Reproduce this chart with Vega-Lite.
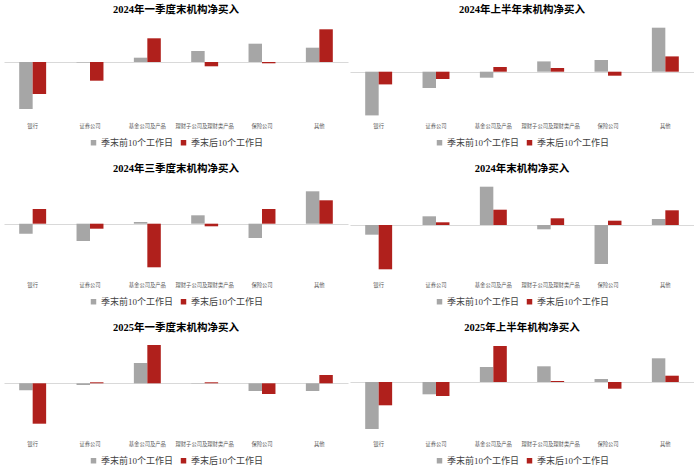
{
  "$schema": "https://vega.github.io/schema/vega-lite/v6.json",
  "padding": {"left": 4, "top": 4, "right": 0, "bottom": 0},
  "background": "white",
  "data": {"values": [
    {"panel": "2024年一季度末机构净买入", "cat": "银行", "series": "季末前10个工作日", "v": -47},
    {"panel": "2024年一季度末机构净买入", "cat": "银行", "series": "季末后10个工作日", "v": -32},
    {"panel": "2024年一季度末机构净买入", "cat": "证券公司", "series": "季末前10个工作日", "v": -0.5},
    {"panel": "2024年一季度末机构净买入", "cat": "证券公司", "series": "季末后10个工作日", "v": -18.7},
    {"panel": "2024年一季度末机构净买入", "cat": "基金公司及产品", "series": "季末前10个工作日", "v": 4.3},
    {"panel": "2024年一季度末机构净买入", "cat": "基金公司及产品", "series": "季末后10个工作日", "v": 23.7},
    {"panel": "2024年一季度末机构净买入", "cat": "理财子公司及理财类产品", "series": "季末前10个工作日", "v": 11},
    {"panel": "2024年一季度末机构净买入", "cat": "理财子公司及理财类产品", "series": "季末后10个工作日", "v": -4.3},
    {"panel": "2024年一季度末机构净买入", "cat": "保险公司", "series": "季末前10个工作日", "v": 18.3},
    {"panel": "2024年一季度末机构净买入", "cat": "保险公司", "series": "季末后10个工作日", "v": -1.3},
    {"panel": "2024年一季度末机构净买入", "cat": "其他", "series": "季末前10个工作日", "v": 14.3},
    {"panel": "2024年一季度末机构净买入", "cat": "其他", "series": "季末后10个工作日", "v": 32.7},

    {"panel": "2024年上半年末机构净买入", "cat": "银行", "series": "季末前10个工作日", "v": -43.7},
    {"panel": "2024年上半年末机构净买入", "cat": "银行", "series": "季末后10个工作日", "v": -12.7},
    {"panel": "2024年上半年末机构净买入", "cat": "证券公司", "series": "季末前10个工作日", "v": -16.3},
    {"panel": "2024年上半年末机构净买入", "cat": "证券公司", "series": "季末后10个工作日", "v": -7.3},
    {"panel": "2024年上半年末机构净买入", "cat": "基金公司及产品", "series": "季末前10个工作日", "v": -6},
    {"panel": "2024年上半年末机构净买入", "cat": "基金公司及产品", "series": "季末后10个工作日", "v": 4.7},
    {"panel": "2024年上半年末机构净买入", "cat": "理财子公司及理财类产品", "series": "季末前10个工作日", "v": 10.3},
    {"panel": "2024年上半年末机构净买入", "cat": "理财子公司及理财类产品", "series": "季末后10个工作日", "v": 3.7},
    {"panel": "2024年上半年末机构净买入", "cat": "保险公司", "series": "季末前10个工作日", "v": 11.7},
    {"panel": "2024年上半年末机构净买入", "cat": "保险公司", "series": "季末后10个工作日", "v": -4},
    {"panel": "2024年上半年末机构净买入", "cat": "其他", "series": "季末前10个工作日", "v": 44},
    {"panel": "2024年上半年末机构净买入", "cat": "其他", "series": "季末后10个工作日", "v": 15.3},

    {"panel": "2024年三季度末机构净买入", "cat": "银行", "series": "季末前10个工作日", "v": -10},
    {"panel": "2024年三季度末机构净买入", "cat": "银行", "series": "季末后10个工作日", "v": 14.7},
    {"panel": "2024年三季度末机构净买入", "cat": "证券公司", "series": "季末前10个工作日", "v": -17.3},
    {"panel": "2024年三季度末机构净买入", "cat": "证券公司", "series": "季末后10个工作日", "v": -5},
    {"panel": "2024年三季度末机构净买入", "cat": "基金公司及产品", "series": "季末前10个工作日", "v": 1.7},
    {"panel": "2024年三季度末机构净买入", "cat": "基金公司及产品", "series": "季末后10个工作日", "v": -43.6},
    {"panel": "2024年三季度末机构净买入", "cat": "理财子公司及理财类产品", "series": "季末前10个工作日", "v": 8.4},
    {"panel": "2024年三季度末机构净买入", "cat": "理财子公司及理财类产品", "series": "季末后10个工作日", "v": -2.6},
    {"panel": "2024年三季度末机构净买入", "cat": "保险公司", "series": "季末前10个工作日", "v": -14.3},
    {"panel": "2024年三季度末机构净买入", "cat": "保险公司", "series": "季末后10个工作日", "v": 14.7},
    {"panel": "2024年三季度末机构净买入", "cat": "其他", "series": "季末前10个工作日", "v": 32.4},
    {"panel": "2024年三季度末机构净买入", "cat": "其他", "series": "季末后10个工作日", "v": 23.4},

    {"panel": "2024年末机构净买入", "cat": "银行", "series": "季末前10个工作日", "v": -9.7},
    {"panel": "2024年末机构净买入", "cat": "银行", "series": "季末后10个工作日", "v": -44.3},
    {"panel": "2024年末机构净买入", "cat": "证券公司", "series": "季末前10个工作日", "v": 8.7},
    {"panel": "2024年末机构净买入", "cat": "证券公司", "series": "季末后10个工作日", "v": 2.7},
    {"panel": "2024年末机构净买入", "cat": "基金公司及产品", "series": "季末前10个工作日", "v": 38.3},
    {"panel": "2024年末机构净买入", "cat": "基金公司及产品", "series": "季末后10个工作日", "v": 15.3},
    {"panel": "2024年末机构净买入", "cat": "理财子公司及理财类产品", "series": "季末前10个工作日", "v": -4.3},
    {"panel": "2024年末机构净买入", "cat": "理财子公司及理财类产品", "series": "季末后10个工作日", "v": 6.7},
    {"panel": "2024年末机构净买入", "cat": "保险公司", "series": "季末前10个工作日", "v": -39},
    {"panel": "2024年末机构净买入", "cat": "保险公司", "series": "季末后10个工作日", "v": 4.3},
    {"panel": "2024年末机构净买入", "cat": "其他", "series": "季末前10个工作日", "v": 6},
    {"panel": "2024年末机构净买入", "cat": "其他", "series": "季末后10个工作日", "v": 14.7},

    {"panel": "2025年一季度末机构净买入", "cat": "银行", "series": "季末前10个工作日", "v": -7},
    {"panel": "2025年一季度末机构净买入", "cat": "银行", "series": "季末后10个工作日", "v": -40.4},
    {"panel": "2025年一季度末机构净买入", "cat": "证券公司", "series": "季末前10个工作日", "v": -1.7},
    {"panel": "2025年一季度末机构净买入", "cat": "证券公司", "series": "季末后10个工作日", "v": 1},
    {"panel": "2025年一季度末机构净买入", "cat": "基金公司及产品", "series": "季末前10个工作日", "v": 20.3},
    {"panel": "2025年一季度末机构净买入", "cat": "基金公司及产品", "series": "季末后10个工作日", "v": 38.3},
    {"panel": "2025年一季度末机构净买入", "cat": "理财子公司及理财类产品", "series": "季末前10个工作日", "v": 0.3},
    {"panel": "2025年一季度末机构净买入", "cat": "理财子公司及理财类产品", "series": "季末后10个工作日", "v": 1},
    {"panel": "2025年一季度末机构净买入", "cat": "保险公司", "series": "季末前10个工作日", "v": -7.7},
    {"panel": "2025年一季度末机构净买入", "cat": "保险公司", "series": "季末后10个工作日", "v": -10.7},
    {"panel": "2025年一季度末机构净买入", "cat": "其他", "series": "季末前10个工作日", "v": -7.7},
    {"panel": "2025年一季度末机构净买入", "cat": "其他", "series": "季末后10个工作日", "v": 8.3},

    {"panel": "2025年上半年机构净买入", "cat": "银行", "series": "季末前10个工作日", "v": -47},
    {"panel": "2025年上半年机构净买入", "cat": "银行", "series": "季末后10个工作日", "v": -23.3},
    {"panel": "2025年上半年机构净买入", "cat": "证券公司", "series": "季末前10个工作日", "v": -12.3},
    {"panel": "2025年上半年机构净买入", "cat": "证券公司", "series": "季末后10个工作日", "v": -14},
    {"panel": "2025年上半年机构净买入", "cat": "基金公司及产品", "series": "季末前10个工作日", "v": 15},
    {"panel": "2025年上半年机构净买入", "cat": "基金公司及产品", "series": "季末后10个工作日", "v": 36},
    {"panel": "2025年上半年机构净买入", "cat": "理财子公司及理财类产品", "series": "季末前10个工作日", "v": 15.7},
    {"panel": "2025年上半年机构净买入", "cat": "理财子公司及理财类产品", "series": "季末后10个工作日", "v": 1},
    {"panel": "2025年上半年机构净买入", "cat": "保险公司", "series": "季末前10个工作日", "v": 3},
    {"panel": "2025年上半年机构净买入", "cat": "保险公司", "series": "季末后10个工作日", "v": -6.7},
    {"panel": "2025年上半年机构净买入", "cat": "其他", "series": "季末前10个工作日", "v": 23.7},
    {"panel": "2025年上半年机构净买入", "cat": "其他", "series": "季末后10个工作日", "v": 6.3}
  ]},
  "columns": 2,
  "spacing": {"row": 15, "column": 2},
  "resolve": {"scale": {"color": "independent"}, "legend": {"color": "independent"}},
  "concat": [
    {
      "title": "2024年一季度末机构净买入",
      "width": 344, "height": 95,
      "transform": [{"filter": {"field": "panel", "equal": "2024年一季度末机构净买入"}}],
      "mark": {"type": "bar"},
      "encoding": {
        "x": {"field": "cat", "type": "nominal", "sort": ["银行", "证券公司", "基金公司及产品", "理财子公司及理财类产品", "保险公司", "其他"], "title": null, "scale": {"paddingInner": 0.53, "paddingOuter": 0.265}},
        "xOffset": {"field": "series", "type": "nominal", "sort": ["季末前10个工作日", "季末后10个工作日"]},
        "y": {"field": "v", "type": "quantitative", "title": null, "scale": {"domain": [-58, 37], "nice": false}, "axis": {"values": [0], "grid": true, "gridColor": "#D9D9D9", "labels": false, "ticks": false, "domain": false}},
        "color": {"field": "series", "type": "nominal", "scale": {"domain": ["季末前10个工作日", "季末后10个工作日"], "range": ["#A6A6A6", "#B0201C"]}, "legend": {"title": null}}
      }
    },
    {
      "title": "2024年上半年末机构净买入",
      "width": 344, "height": 95,
      "transform": [{"filter": {"field": "panel", "equal": "2024年上半年末机构净买入"}}],
      "mark": {"type": "bar"},
      "encoding": {
        "x": {"field": "cat", "type": "nominal", "sort": ["银行", "证券公司", "基金公司及产品", "理财子公司及理财类产品", "保险公司", "其他"], "title": null, "scale": {"paddingInner": 0.53, "paddingOuter": 0.265}},
        "xOffset": {"field": "series", "type": "nominal", "sort": ["季末前10个工作日", "季末后10个工作日"]},
        "y": {"field": "v", "type": "quantitative", "title": null, "scale": {"domain": [-48.3, 46.7], "nice": false}, "axis": {"values": [0], "grid": true, "gridColor": "#D9D9D9", "labels": false, "ticks": false, "domain": false}},
        "color": {"field": "series", "type": "nominal", "scale": {"domain": ["季末前10个工作日", "季末后10个工作日"], "range": ["#A6A6A6", "#B0201C"]}, "legend": {"title": null}}
      }
    },
    {
      "title": "2024年三季度末机构净买入",
      "width": 344, "height": 95,
      "transform": [{"filter": {"field": "panel", "equal": "2024年三季度末机构净买入"}}],
      "mark": {"type": "bar"},
      "encoding": {
        "x": {"field": "cat", "type": "nominal", "sort": ["银行", "证券公司", "基金公司及产品", "理财子公司及理财类产品", "保险公司", "其他"], "title": null, "scale": {"paddingInner": 0.53, "paddingOuter": 0.265}},
        "xOffset": {"field": "series", "type": "nominal", "sort": ["季末前10个工作日", "季末后10个工作日"]},
        "y": {"field": "v", "type": "quantitative", "title": null, "scale": {"domain": [-55.3, 39.7], "nice": false}, "axis": {"values": [0], "grid": true, "gridColor": "#D9D9D9", "labels": false, "ticks": false, "domain": false}},
        "color": {"field": "series", "type": "nominal", "scale": {"domain": ["季末前10个工作日", "季末后10个工作日"], "range": ["#A6A6A6", "#B0201C"]}, "legend": {"title": null}}
      }
    },
    {
      "title": "2024年末机构净买入",
      "width": 344, "height": 95,
      "transform": [{"filter": {"field": "panel", "equal": "2024年末机构净买入"}}],
      "mark": {"type": "bar"},
      "encoding": {
        "x": {"field": "cat", "type": "nominal", "sort": ["银行", "证券公司", "基金公司及产品", "理财子公司及理财类产品", "保险公司", "其他"], "title": null, "scale": {"paddingInner": 0.53, "paddingOuter": 0.265}},
        "xOffset": {"field": "series", "type": "nominal", "sort": ["季末前10个工作日", "季末后10个工作日"]},
        "y": {"field": "v", "type": "quantitative", "title": null, "scale": {"domain": [-54, 41], "nice": false}, "axis": {"values": [0], "grid": true, "gridColor": "#D9D9D9", "labels": false, "ticks": false, "domain": false}},
        "color": {"field": "series", "type": "nominal", "scale": {"domain": ["季末前10个工作日", "季末后10个工作日"], "range": ["#A6A6A6", "#B0201C"]}, "legend": {"title": null}}
      }
    },
    {
      "title": "2025年一季度末机构净买入",
      "width": 344, "height": 95,
      "transform": [{"filter": {"field": "panel", "equal": "2025年一季度末机构净买入"}}],
      "mark": {"type": "bar"},
      "encoding": {
        "x": {"field": "cat", "type": "nominal", "sort": ["银行", "证券公司", "基金公司及产品", "理财子公司及理财类产品", "保险公司", "其他"], "title": null, "scale": {"paddingInner": 0.53, "paddingOuter": 0.265}},
        "xOffset": {"field": "series", "type": "nominal", "sort": ["季末前10个工作日", "季末后10个工作日"]},
        "y": {"field": "v", "type": "quantitative", "title": null, "scale": {"domain": [-54.7, 40.3], "nice": false}, "axis": {"values": [0], "grid": true, "gridColor": "#D9D9D9", "labels": false, "ticks": false, "domain": false}},
        "color": {"field": "series", "type": "nominal", "scale": {"domain": ["季末前10个工作日", "季末后10个工作日"], "range": ["#A6A6A6", "#B0201C"]}, "legend": {"title": null}}
      }
    },
    {
      "title": "2025年上半年机构净买入",
      "width": 344, "height": 95,
      "transform": [{"filter": {"field": "panel", "equal": "2025年上半年机构净买入"}}],
      "mark": {"type": "bar"},
      "encoding": {
        "x": {"field": "cat", "type": "nominal", "sort": ["银行", "证券公司", "基金公司及产品", "理财子公司及理财类产品", "保险公司", "其他"], "title": null, "scale": {"paddingInner": 0.53, "paddingOuter": 0.265}},
        "xOffset": {"field": "series", "type": "nominal", "sort": ["季末前10个工作日", "季末后10个工作日"]},
        "y": {"field": "v", "type": "quantitative", "title": null, "scale": {"domain": [-56, 39], "nice": false}, "axis": {"values": [0], "grid": true, "gridColor": "#D9D9D9", "labels": false, "ticks": false, "domain": false}},
        "color": {"field": "series", "type": "nominal", "scale": {"domain": ["季末前10个工作日", "季末后10个工作日"], "range": ["#A6A6A6", "#B0201C"]}, "legend": {"title": null}}
      }
    }
  ],
  "config": {
    "view": {"stroke": null},
    "font": "Liberation Serif, Noto Sans CJK SC",
    "title": {"fontSize": 10.5, "font": "Liberation Serif, Noto Sans CJK SC", "fontWeight": "bold", "color": "#000000", "offset": 10, "anchor": "middle"},
    "axisX": {"labelAngle": 0, "domain": false, "ticks": false, "grid": false, "labelFontSize": 5.3, "labelColor": "#595959", "labelPadding": 3, "labelFont": "Noto Sans CJK SC", "labelLimit": 0},
    "legend": {"orient": "bottom", "direction": "horizontal", "labelFontSize": 9, "labelFont": "Liberation Serif, Noto Sans CJK SC", "labelColor": "#404040", "symbolType": "square", "symbolSize": 30, "symbolStrokeWidth": 0, "labelOffset": 3, "columnPadding": 5, "offset": 9, "padding": 0, "labelLimit": 0, "layout": {"bottom": {"anchor": "middle"}}}
  }
}
